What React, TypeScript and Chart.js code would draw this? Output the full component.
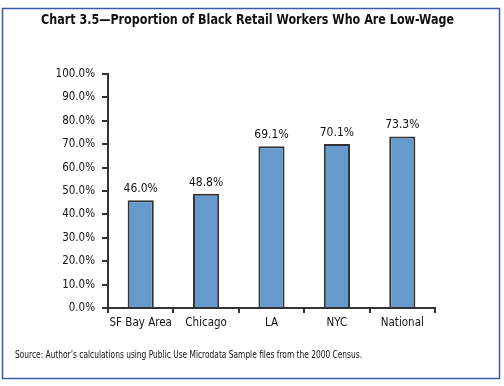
import React, { useEffect, useRef } from "react";
import { Chart, registerables } from "chart.js";

Chart.register(...registerables);

const categories = ["SF Bay Area", "Chicago", "LA", "NYC", "National"];
const values = [46.0, 48.8, 69.1, 70.1, 73.3];
const yTicks = [0, 10, 20, 30, 40, 50, 60, 70, 80, 90, 100];
const titleText = "Chart 3.5\u2014Proportion of Black Retail Workers Who Are Low-Wage";
const sourceText = "Source: Author\u2019s calculations using Public Use Microdata Sample files from the 2000 Census.";

const FONT = '"DejaVu Sans Condensed", "Liberation Sans Narrow", sans-serif';

function drawFitted(ctx: any, text: string, x: number, y: number, font: string, width: number, align: "left" | "center") {
  ctx.save();
  ctx.font = font;
  const w = ctx.measureText(text).width;
  const s = width / w;
  ctx.translate(x, y);
  ctx.scale(s, 1);
  ctx.textAlign = align;
  ctx.textBaseline = "middle";
  ctx.fillText(text, 0, 0);
  ctx.restore();
}

const decor = {
  id: "decor",
  afterDraw(chart: any) {
    const ctx = chart.ctx;
    ctx.save();
    ctx.strokeStyle = "#3a5aa8";
    ctx.lineWidth = 1.5;
    ctx.strokeRect(2.5, 8.5, 497, 370);
    ctx.fillStyle = "#111";
    drawFitted(ctx, titleText, 247.5, 20.5, `bold 14px ${FONT}`, 413, "center");
    drawFitted(ctx, sourceText, 15, 355, `10.5px ${FONT}`, 347, "left");
    const meta = chart.getDatasetMeta(0);
    ctx.font = `12px ${FONT}`;
    ctx.textAlign = "center";
    ctx.textBaseline = "alphabetic";
    meta.data.forEach((bar: any, i: number) => {
      ctx.fillText(values[i].toFixed(1) + "%", bar.x, bar.y - 8);
    });
    ctx.restore();
  },
};

export default function App() {
  const ref = useRef<HTMLCanvasElement>(null);
  useEffect(() => {
    if (!ref.current) return;
    const chart = new Chart(ref.current, {
      type: "bar",
      data: {
        labels: categories,
        datasets: [
          {
            data: values,
            backgroundColor: "#6699cc",
            borderColor: "#333333",
            borderWidth: 2,
            borderSkipped: "bottom",
            barPercentage: 0.4,
            categoryPercentage: 1,
          },
        ],
      },
      options: {
        responsive: false,
        animation: false,
        devicePixelRatio: 1,
        layout: { padding: { top: 74, right: 69, bottom: 48, left: 0 } },
        plugins: { legend: { display: false }, tooltip: { enabled: false }, title: { display: false } },
        scales: {
          x: {
            grid: { drawOnChartArea: false, drawTicks: true, tickLength: 5, color: "#333", lineWidth: 2, offset: true },
            border: { display: true, color: "#333", width: 2 },
            ticks: { color: "#111", font: { family: FONT, size: 11.5 }, padding: 3, maxRotation: 0, autoSkip: false },
            afterFit(scale: any) {
              scale.height = 30;
            },
          },
          y: {
            min: 0,
            max: 100,
            afterBuildTicks(scale: any) {
              scale.ticks = yTicks.map((v) => ({ value: v }));
            },
            grid: { drawOnChartArea: false, drawTicks: true, tickLength: 6, color: "#333", lineWidth: 2 },
            border: { display: true, color: "#333", width: 2 },
            ticks: {
              color: "#111",
              font: { family: FONT, size: 11.5 },
              padding: 7,
              callback: (v: any) => Number(v).toFixed(1) + "%",
            },
            afterFit(scale: any) {
              scale.width = 108;
            },
          },
        },
      },
      plugins: [decor],
    });
    return () => chart.destroy();
  }, []);
  return (
    <div style={{ position: "absolute", left: 0, top: 0, width: 504, height: 386, background: "#fff" }}>
      <canvas ref={ref} width={504} height={386} style={{ display: "block", width: 504, height: 386 }} />
    </div>
  );
}
